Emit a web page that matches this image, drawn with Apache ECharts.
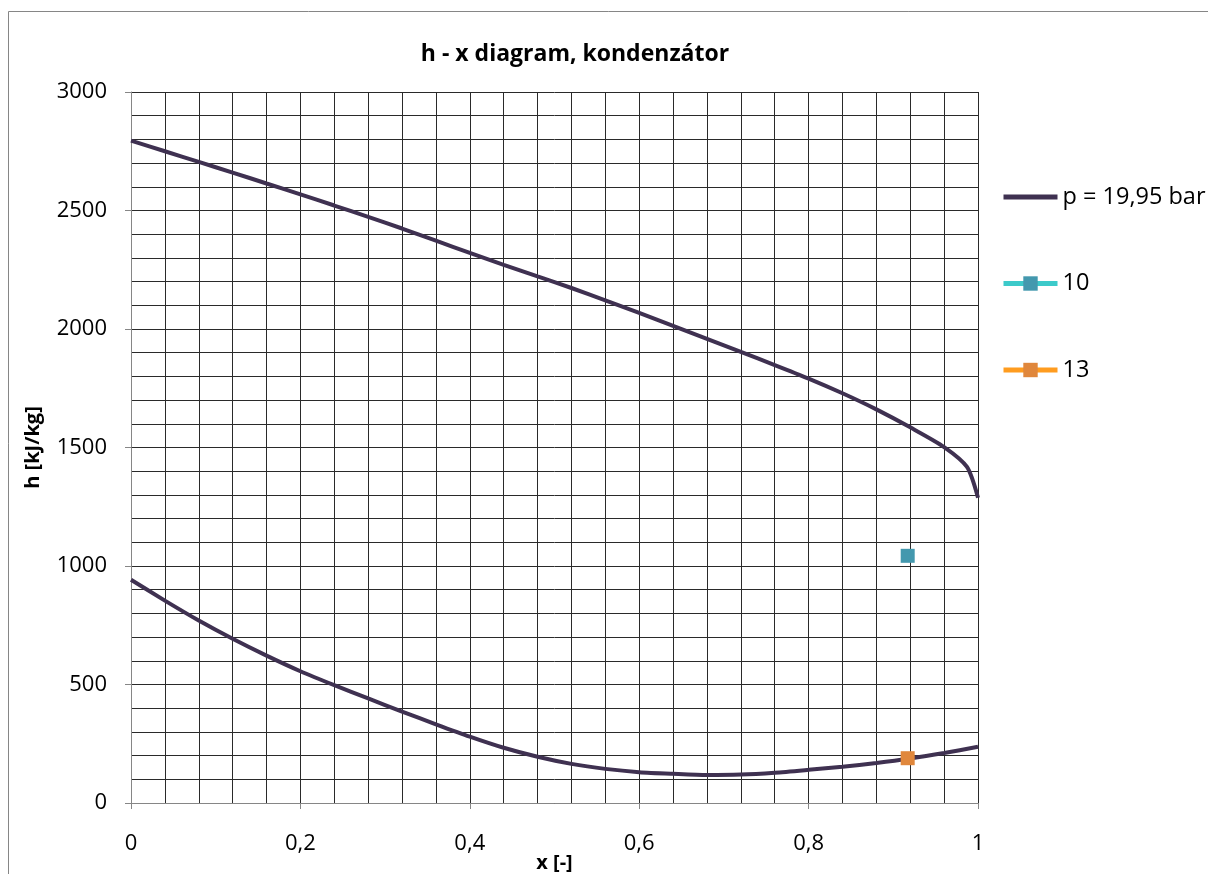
<!DOCTYPE html>
<html>
<head>
<meta charset="utf-8">
<script src="https://cdn.jsdelivr.net/npm/echarts@6/dist/echarts.min.js"></script>
<style>
html,body{margin:0;padding:0;background:#fff;overflow:hidden;}
#chart{width:1208px;height:874px;}
</style>
</head>
<body>
<div id="chart"></div>
<script>
// Data
const upperX = [0, 0.04, 0.08, 0.12, 0.16, 0.2, 0.24, 0.28, 0.32, 0.36, 0.4, 0.44, 0.48, 0.52, 0.56, 0.6, 0.64, 0.68, 0.72, 0.76, 0.8, 0.84, 0.88, 0.92, 0.96, 0.987, 1.0];
const upperH = [2795, 2750, 2705, 2660, 2614, 2568, 2521, 2473, 2424, 2373, 2321, 2271, 2222, 2173, 2121, 2068, 2013, 1958, 1903, 1848, 1791, 1729, 1661, 1585, 1502, 1418, 1288];
const lowerX = [0, 0.04, 0.08, 0.12, 0.16, 0.2, 0.24, 0.28, 0.32, 0.36, 0.4, 0.44, 0.48, 0.52, 0.56, 0.6, 0.64, 0.68, 0.72, 0.76, 0.8, 0.84, 0.88, 0.92, 0.96, 1.0];
const lowerH = [942, 854, 770, 693, 622, 556, 497, 441, 386, 332, 280, 233, 195, 165, 144, 130, 123, 118, 120, 128, 140, 153, 169, 188, 211, 237];
const point10 = [0.917, 1043];
const point13 = [0.917, 189];
const seriesNames = ['p = 19,95 bar', '10', '13'];
const xTickLabels = ['0', '0,2', '0,4', '0,6', '0,8', '1'];
const yTickLabels = ['0', '500', '1000', '1500', '2000', '2500', '3000'];

const zip = (xs, ys) => xs.map((x, i) => [x, ys[i]]);
const FONT = '"Open Sans", "Noto Sans", sans-serif';
const gridColor = '#2a2a2a';
const axisGrey = '#868686';

const chart = echarts.init(document.getElementById('chart'), null, {renderer: 'canvas'});
chart.setOption({
  animation: false,
  backgroundColor: '#fff',
  title: {
    text: 'h - x diagram, kondenzátor',
    left: 570, textAlign: 'center', top: 38,
    textStyle: {fontFamily: FONT, fontWeight: 'bold', fontSize: 23, color: '#000'}
  },
  graphic: [{
    type: 'rect', silent: true,
    shape: {x: 8.5, y: 11.5, width: 1400, height: 1000},
    style: {fill: 'none', stroke: axisGrey, lineWidth: 1}
  }],
  legend: {
    orient: 'vertical', left: 1001, top: 185, padding: 0,
    itemWidth: 54, itemHeight: 18, itemGap: 62.5,
    lineStyle: {width: 5},
    data: [
      {name: seriesNames[0], itemStyle: {opacity: 0}},
      {name: seriesNames[1]},
      {name: seriesNames[2]}
    ],
    textStyle: {fontFamily: FONT, fontSize: 23.5, color: '#000', lineHeight: 24}
  },
  grid: {left: 131, top: 92, right: 230, bottom: 71, containLabel: false, outerBoundsMode: 'none'},
  xAxis: {
    type: 'value', min: 0, max: 1, interval: 0.2,
    name: 'x [-]', nameLocation: 'middle', nameGap: 50, nameMoveOverlap: false,
    nameTextStyle: {fontFamily: FONT, fontWeight: 'bold', fontSize: 20, color: '#000'},
    axisLine: {show: true, lineStyle: {color: axisGrey, width: 1}},
    axisTick: {show: true, inside: false, length: 6, lineStyle: {color: axisGrey}},
    axisLabel: {
      margin: 30, fontFamily: FONT, fontSize: 22, color: '#000',
      formatter: (v) => xTickLabels[Math.round(v / 0.2)]
    },
    splitLine: {show: true, lineStyle: {color: gridColor, width: 1}},
    minorTick: {show: false, splitNumber: 5},
    minorSplitLine: {show: true, lineStyle: {color: gridColor, width: 1}}
  },
  yAxis: {
    type: 'value', min: 0, max: 3000, interval: 500,
    name: 'h [kJ/kg]', nameLocation: 'middle', nameGap: 88, nameRotate: 90, nameMoveOverlap: false,
    nameTextStyle: {fontFamily: FONT, fontWeight: 'bold', fontSize: 20, color: '#000'},
    axisLine: {show: true, lineStyle: {color: axisGrey, width: 1}},
    axisTick: {show: true, inside: false, length: 6, lineStyle: {color: axisGrey}},
    axisLabel: {
      margin: 24, fontFamily: FONT, fontSize: 22, color: '#000',
      formatter: (v) => yTickLabels[Math.round(v / 500)]
    },
    splitLine: {show: true, lineStyle: {color: gridColor, width: 1}},
    minorTick: {show: false, splitNumber: 5},
    minorSplitLine: {show: true, lineStyle: {color: gridColor, width: 1}}
  },
  series: [
    {
      name: seriesNames[0], type: 'line', data: zip(upperX, upperH),
      smooth: 0.25, symbol: 'none', showSymbol: false,
      lineStyle: {color: '#3f3151', width: 4}, itemStyle: {color: '#3f3151'}, z: 5
    },
    {
      name: seriesNames[0], type: 'line', data: zip(lowerX, lowerH),
      smooth: 0.25, symbol: 'none', showSymbol: false,
      lineStyle: {color: '#3f3151', width: 4}, itemStyle: {color: '#3f3151'}, z: 5
    },
    {
      name: seriesNames[1], type: 'line', data: [point10],
      symbol: 'rect', symbolSize: 14, showSymbol: true,
      lineStyle: {color: '#3ccaca', width: 4}, itemStyle: {color: '#4398ae'}, z: 6
    },
    {
      name: seriesNames[2], type: 'line', data: [point13],
      symbol: 'rect', symbolSize: 14, showSymbol: true,
      lineStyle: {color: '#ff9c1f', width: 4}, itemStyle: {color: '#e0873c'}, z: 6
    }
  ]
});
</script>
</body>
</html>
